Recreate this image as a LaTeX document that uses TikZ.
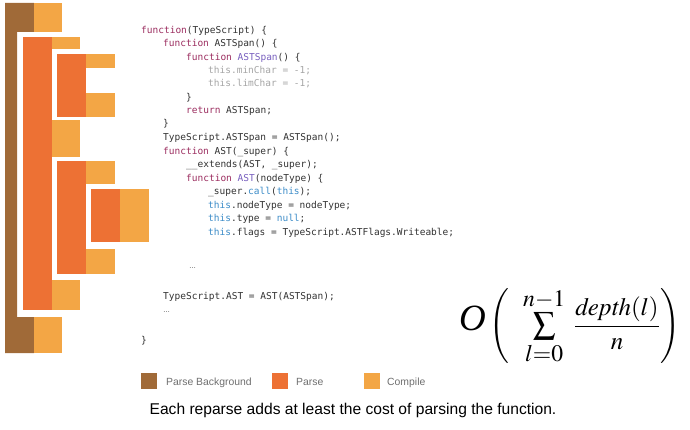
\documentclass[tikz,border=0pt]{standalone}
\usepackage{amsmath}
\usepackage{mathptmx}
\usepackage[no-math]{fontspec}
\setmainfont{Liberation Sans}
\setmonofont{DejaVu Sans Mono}
\newfontfamily\timesfont{Liberation Serif}
\usepackage{tikz}

\definecolor{bgbrown}{RGB}{160,106,56}
\definecolor{parseorange}{RGB}{237,113,52}
\definecolor{compileorange}{RGB}{243,166,69}
\definecolor{kwred}{RGB}{155,45,95}
\definecolor{fnpurple}{RGB}{120,95,190}
\definecolor{thisblue}{RGB}{60,140,200}
\definecolor{codegray}{RGB}{50,50,50}
\definecolor{dimgray}{RGB}{165,165,165}
\definecolor{legendgray}{RGB}{110,110,110}

\newcommand{\kw}[1]{\textcolor{kwred}{#1}}
\newcommand{\fn}[1]{\textcolor{fnpurple}{#1}}
\newcommand{\kwthis}[1]{\textcolor{thisblue}{#1}}

\begin{document}
\begin{tikzpicture}[x=1pt, y=-1pt,
    bgbar/.style={fill=bgbrown},
    parsebar/.style={fill=parseorange},
    compilebar/.style={fill=compileorange},
    codeline/.style={anchor=base west, inner sep=0pt, text=codegray, font=\ttfamily\fontsize{9.5}{11}\selectfont},
    legendbox/.style={fill=#1, minimum size=16pt, inner sep=0pt, anchor=north west},
    legendtext/.style={anchor=base west, inner sep=0pt, text=legendgray, font=\fontsize{10.4}{12}\selectfont}]
    \useasboundingbox (0,0) rectangle (690,430);

    % parse background, parse and compile bars
    \fill[bgbar] (5,3) -- (34,3) -- (34,32) -- (17,32) -- (17,317) -- (34,317) -- (34,353) -- (5,353) -- cycle;
    \fill[parsebar] (23,37) rectangle (52,310);
    \fill[parsebar] (57,54) rectangle (86,117);
    \fill[parsebar] (57,161) rectangle (86,274);
    \fill[parsebar] (91,189) rectangle (120,242);
    \fill[compilebar] (34,3) rectangle (62,32);
    \fill[compilebar] (52,37) rectangle (80,49);
    \fill[compilebar] (86,54) rectangle (115,68);
    \fill[compilebar] (86,93) rectangle (115,117);
    \fill[compilebar] (52,120) rectangle (80,157);
    \fill[compilebar] (86,161) rectangle (115,184);
    \fill[compilebar] (120,189) rectangle (149,242);
    \fill[compilebar] (86,249) rectangle (115,274);
    \fill[compilebar] (52,280) rectangle (80,310);
    \fill[compilebar] (34,317) rectangle (62,353);

    % source code
    \node[codeline] (l1) at (141,34) {\kw{function}(TypeScript) \{};
    \node[codeline] (l2) at (163,47) {\kw{function} ASTSpan() \{};
    \node[codeline] (l3) at (186,61) {\kw{function} \fn{ASTSpan}() \{};
    \node[codeline, text=dimgray] (l4) at (208,74) {this.minChar = -1;};
    \node[codeline, text=dimgray] (l5) at (208,87) {this.limChar = -1;};
    \node[codeline] (l6) at (186,101) {\}};
    \node[codeline] (l7) at (186,114) {\kw{return} ASTSpan;};
    \node[codeline] (l8) at (163,127) {\}};
    \node[codeline] (l9) at (163,141) {TypeScript.ASTSpan = ASTSpan();};
    \node[codeline] (l10) at (163,155) {\kw{function} AST(\_super) \{};
    \node[codeline] (l11) at (186,168) {\_\_extends(AST, \_super);};
    \node[codeline] (l12) at (186,182) {\kw{function} \fn{AST}(nodeType) \{};
    \node[codeline] (l13) at (208,195) {\_super.\kwthis{call}(\kwthis{this});};
    \node[codeline] (l14) at (208,209) {\kwthis{this}.nodeType = nodeType;};
    \node[codeline] (l15) at (208,222) {\kwthis{this}.type = \kwthis{null};};
    \node[codeline] (l16) at (208,236) {\kwthis{this}.flags = TypeScript.ASTFlags.Writeable;};
    \node[codeline, font=\fontsize{7}{8}\selectfont] (l17) at (189,268) {…};
    \node[codeline] (l18) at (163,299) {TypeScript.AST = AST(ASTSpan);};
    \node[codeline, font=\fontsize{7}{8}\selectfont] (l19) at (163,312) {…};
    \node[codeline] (l20) at (141,343) {\}};

    % cost formula
    \node[inner sep=0pt, anchor=base west, font=\timesfont\itshape\fontsize{37}{40}\selectfont] (bigO) at (459,330) {O};
    \node[inner sep=0pt, font=\fontsize{25}{30}\selectfont] (cost) at (585,326)
        {$\left(\hspace{14pt}\vcenter{\hbox{\fontsize{32}{38}\selectfont$\sum\limits_{l=0}^{n-1}$}}\hspace{9pt}\displaystyle\frac{\mathit{depth}(l)}{n}\hspace{1pt}\right)$};

    % legend
    \node[legendbox=bgbrown] (bgkey) at (141,373) {};
    \node[legendtext] (bgtext) at (166,385) {Parse Background};
    \node[legendbox=parseorange] (parsekey) at (272,373) {};
    \node[legendtext] (parsetext) at (296,385) {Parse};
    \node[legendbox=compileorange] (compilekey) at (364,373) {};
    \node[legendtext] (compiletext) at (387,385) {Compile};

    \node[font=\fontsize{15.6}{18}\selectfont] (caption) at (353,410)
        {Each reparse adds at least the cost of parsing the function.};
\end{tikzpicture}
\end{document}
